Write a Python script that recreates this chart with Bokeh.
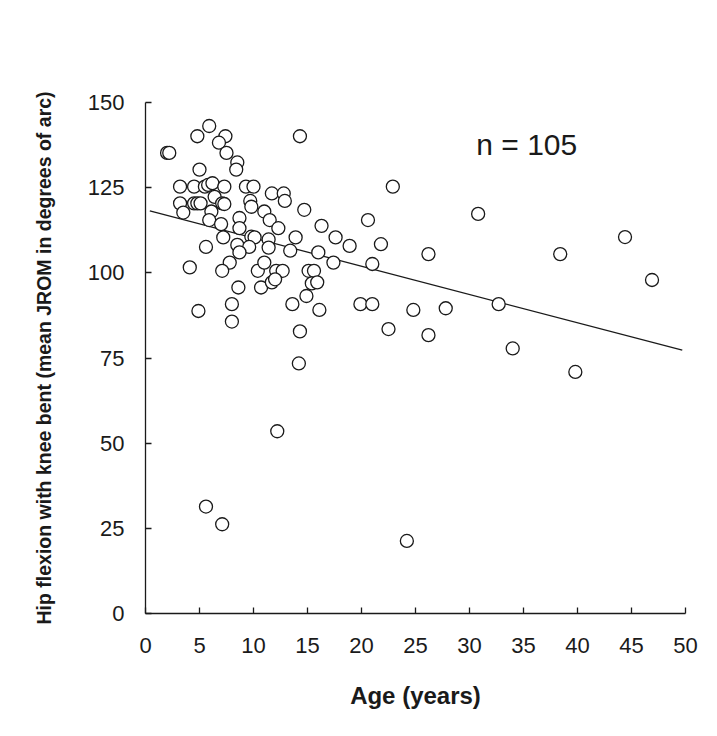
from bokeh.plotting import figure
from bokeh.models import Range1d, FixedTicker, Label
from bokeh.embed import file_html
from bokeh.resources import INLINE

# Age (years) of each subject
age = [2.0, 2.2, 5.9, 4.8, 7.4, 6.8, 7.5, 8.5, 8.4, 5.0,
       14.3, 3.2, 4.5, 5.5, 5.8, 6.2, 7.3, 9.3, 10.0, 11.7,
       12.8, 12.9, 6.4, 3.2, 4.5, 4.8, 5.1, 7.1, 7.3, 9.7,
       9.8, 3.5, 6.1, 11.0, 14.7, 5.9, 8.7, 11.5, 7.0, 8.7,
       12.3, 16.3, 7.2, 9.8, 10.1, 11.4, 13.9, 17.6, 5.6, 8.5,
       9.6, 11.4, 13.4, 8.7, 16.0, 17.4, 7.8, 4.1, 7.1, 10.4,
       11.0, 12.1, 12.7, 15.1, 15.6, 8.6, 10.7, 11.7, 12.0, 15.4,
       15.9, 8.0, 13.6, 14.9, 4.9, 16.1, 8.0, 14.3, 14.2, 22.9,
       20.6, 30.8, 44.4, 18.9, 21.8, 26.2, 38.4, 21.0, 46.9, 19.9,
       21.0, 24.8, 27.8, 32.7, 22.5, 26.2, 34.0, 39.8, 5.6, 7.1,
       12.2, 24.2]

# Hip flexion with knee bent (degrees)
hip_flexion = [135.2, 135.2, 143.1, 140.1, 140.1, 138.2, 135.2, 132.4, 130.3, 130.3,
               140.1, 125.3, 125.3, 125.3, 125.8, 126.3, 125.3, 125.3, 125.3, 123.3,
               123.3, 121.1, 122.3, 120.4, 120.4, 120.4, 120.4, 120.4, 120.2, 121.1,
               119.4, 117.7, 118.0, 118.0, 118.5, 115.5, 116.1, 115.5, 114.3, 113.1,
               113.1, 113.8, 110.4, 110.6, 110.4, 109.8, 110.4, 110.4, 107.6, 108.2,
               107.6, 107.4, 106.5, 106.0, 106.0, 103.0, 103.0, 101.6, 100.6, 100.6,
               103.0, 100.6, 100.6, 100.6, 100.6, 95.7, 95.7, 97.2, 98.1, 96.9,
               97.2, 90.8, 90.8, 93.2, 88.8, 89.1, 85.7, 82.8, 73.4, 125.3,
               115.5, 117.3, 110.5, 107.9, 108.4, 105.5, 105.5, 102.6, 97.9, 90.8,
               90.8, 89.1, 89.6, 90.8, 83.5, 81.7, 77.8, 70.9, 31.4, 26.2,
               53.5, 21.3]

# Regression line end points
fit_x = [0.4, 49.7]
fit_y = [118.2, 77.3]

x_ticks = [0, 5, 10, 15, 20, 25, 30, 35, 40, 45, 50]
y_ticks = [0, 25, 50, 75, 100, 125, 150]

FONT = "Liberation Sans"
INK = "#1a1a1a"

p = figure(frame_width=540, frame_height=511,
           min_border_left=145, min_border_right=23,
           min_border_top=102, min_border_bottom=115,
           x_range=Range1d(0, 50), y_range=Range1d(0, 150),
           output_backend="svg", toolbar_location=None,
           background_fill_color="white", border_fill_color="white")
p.outline_line_color = None
p.grid.visible = False

p.line(fit_x, fit_y, line_color=INK, line_width=1.3)
p.scatter(age, hip_flexion, size=13, marker="circle",
          fill_color="white", line_color=INK, line_width=1.3)

for ax, ticks in ((p.xaxis[0], x_ticks), (p.yaxis[0], y_ticks)):
    ax.ticker = FixedTicker(ticks=ticks)
    ax.minor_tick_line_color = None
    ax.major_tick_in = 6
    ax.major_tick_out = 0
    ax.axis_line_width = 1.3
    ax.axis_line_color = INK
    ax.major_tick_line_color = INK
    ax.major_tick_line_width = 1.3
    ax.major_label_text_font = FONT
    ax.major_label_text_font_size = "22px"
    ax.major_label_text_color = INK
    ax.axis_label_text_font = FONT
    ax.axis_label_text_font_style = "bold"
    ax.axis_label_text_color = INK

p.xaxis.axis_label = "Age (years)"
p.xaxis.major_label_standoff = 24
p.xaxis.axis_label_standoff = 26
p.xaxis.axis_label_text_font_size = "24px"

p.yaxis.axis_label = "Hip flexion with knee bent (mean JROM in degrees of arc)"
p.yaxis.major_label_standoff = 21
p.yaxis.axis_label_standoff = 30
p.yaxis.axis_label_text_font_size = "19.5px"

p.add_layout(Label(x=35.3, y=137.6, text="n = 105", text_align="center",
                   text_baseline="middle", text_font=FONT,
                   text_font_size="30px", text_color=INK))

open("out.html", "w").write(file_html(p, INLINE))
